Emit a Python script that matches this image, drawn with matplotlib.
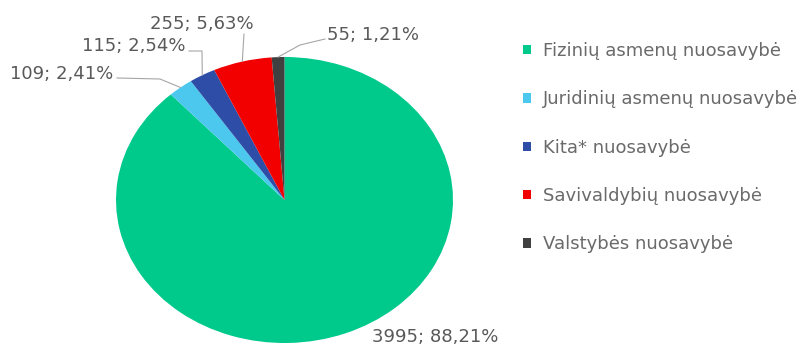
import numpy as np
import matplotlib
matplotlib.use('Agg')
import matplotlib.pyplot as plt

plt.rcParams['font.family'] = ['DejaVu Sans']

# data
categories = ['Fizinių asmenų nuosavybė', 'Juridinių asmenų nuosavybė',
              'Kita* nuosavybė', 'Savivaldybių nuosavybė', 'Valstybės nuosavybė']
values = [3995, 109, 115, 255, 55]
colors = ['#00C98C', '#4CC8EE', '#2D4DA6', '#F20000', '#404040']

# layout (pixels from top-left of an 801x345 image)
W, H = 801, 345
CX, CY, RX, RY = 284.5, 200.0, 168.5, 143.0
label_pos = [(435, 337), (62, 74), (134, 46), (202, 24), (373, 35)]
# leader line points on the label side (pixels), None = no leader
leader_pts = [None,
              [(117, 78), (160, 79)],
              [(189, 51), (202, 51)],
              [(244, 34)],
              [(325, 39), (300, 45)]]


def px(x, y):
    # pixel -> data coords (unit circle stretched to the ellipse)
    return (x - CX) / RX, (CY - y) / RY


fig = plt.figure(figsize=(W / 100, H / 100), dpi=100)
ax = fig.add_axes([0, 0, 1, 1])
wedges, _ = ax.pie(values, colors=colors, startangle=90, counterclock=False,
                   wedgeprops=dict(linewidth=0))
ax.set_aspect('auto')
ax.set_xlim(-CX / RX, (W - CX) / RX)
ax.set_ylim((CY - H) / RY, CY / RY)
ax.axis('off')

total = sum(values)
for w, v, lp, lead in zip(wedges, values, label_pos, leader_pts):
    pct = 100.0 * v / total
    txt = '%d; %s%%' % (v, ('%.2f' % pct).replace('.', ','))
    tx, ty = px(*lp)
    ax.text(tx, ty, txt, ha='center', va='center', fontsize=13, color='#595959')
    if lead is not None:
        mid = np.deg2rad((w.theta1 + w.theta2) / 2)
        pts = [px(*p) for p in lead] + [(np.cos(mid), np.sin(mid))]
        xs, ys = zip(*pts)
        ax.plot(xs, ys, color='#A6A6A6', lw=0.8)

leg = ax.legend(wedges, categories, loc='upper left',
                bbox_to_anchor=(523 / W, 1 - 42 / H), bbox_transform=fig.transFigure,
                frameon=False, fontsize=13, handlelength=0.42, handleheight=0.42,
                handletextpad=0.7, labelspacing=1.68, borderpad=0, borderaxespad=0)
for t in leg.get_texts():
    t.set_color('#6A6A6A')

fig.savefig('out.png', dpi=100)
